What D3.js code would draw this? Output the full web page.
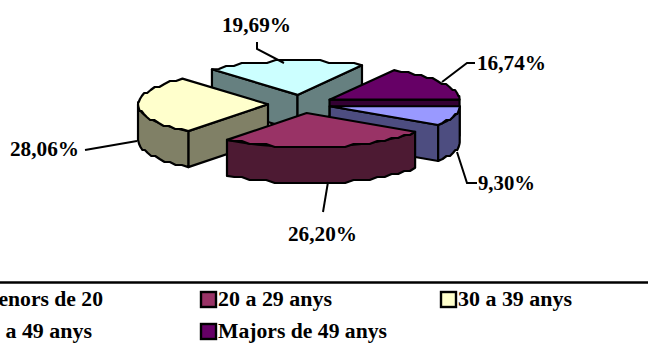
<!DOCTYPE html>
<html><head><meta charset="utf-8">
<script src="https://cdn.jsdelivr.net/npm/d3@7"></script>
<style>html,body{margin:0;padding:0;background:#fff}svg{display:block}
text{font-family:"Liberation Serif",serif;font-weight:bold;fill:#000}</style></head>
<body><svg id="c" width="648" height="347"></svg>
<script>
const categories=["Menors de 20","20 a 29 anys","30 a 39 anys","40 a 49 anys","Majors de 49 anys"];
const values=[9.30,26.20,28.06,19.69,16.74];
const labels=["9,30%","26,20%","28,06%","19,69%","16,74%"];
const topColors=["#9999ff","#993366","#ffffcc","#ccffff","#660066"];
const wallColors=["#4d4d80","#4d1a33","#808066","#668080","#330033"];
const drawOrder=[3,4,2,0,1];
const explodeBy=[30,35,33,35,33];

const svg=d3.select("#c");
const W=648,rx=130,ry=34,depth=36,cx=301,cy=104,STEP=3;
const k=ry/rx;
const pie=d3.pie().sort(null).value(d=>d).startAngle(Math.PI/2).endAngle(Math.PI/2+2*Math.PI);
const arcs=pie(values);
const rScale=d3.scaleLinear().domain([0,1]).range([0,rx]);
const ux=a=>Math.sin(a),uy=a=>-Math.cos(a);
const apex=a=>{const m=(a.startAngle+a.endAngle)/2,e=explodeBy[a.index];return [cx+e*ux(m),cy+e*k*uy(m)];};
const rim=(a,t)=>{const o=apex(a);return [o[0]+rScale(1)*ux(t),o[1]+rScale(1)*k*uy(t)];};
const snap=p=>[p[0],Math.round(p[1]/STEP)*STEP];
function arcPts(a,t0,t1,dy=0,jag=true){
  const n=Math.max(2,Math.ceil(Math.abs(t1-t0)*rx/9)),pts=[];
  for(let i=0;i<=n;i++){
    const t=t0+(t1-t0)*i/n,p=rim(a,t);
    const q=(jag&&i>0&&i<n)?snap(p):p;
    pts.push([q[0],q[1]+dy]);
  }
  return pts;
}
const line=d3.line();
function poly(pts,fill){
  svg.append("path").attr("d",line(pts)+"Z").attr("fill",fill)
    .attr("stroke","#000").attr("stroke-width",2.2).attr("stroke-linejoin","round");
}
drawOrder.forEach(i=>{
  const a=arcs[i],o=apex(a),s=rim(a,a.startAngle),e=rim(a,a.endAngle);
  const down=p=>[p[0],p[1]+depth];
  if(ux(a.startAngle)<0) poly([o,s,down(s),down(o)],wallColors[i]);
  if(ux(a.endAngle)>0) poly([o,e,down(e),down(o)],wallColors[i]);
  const lo=Math.max(a.startAngle,Math.PI/2),hi=Math.min(a.endAngle,3*Math.PI/2);
  if(hi>lo) poly([...arcPts(a,lo,hi,0,false),...arcPts(a,hi,lo,depth)],wallColors[i]);
  poly([o,...arcPts(a,a.startAngle,a.endAngle)],topColors[i]);
});

// labels and leader lines (layout only)
const leaders=[[[457,152],[467,183],[477,183]],[[328,182],[323,212]],[[137,141],[85,150]],[[284,63],[257,49],[257,42]],[[442,82],[467,63],[475,63]]];
const labelPos=[[478,190],[288,241],[10,156],[222,32],[477,70]];
const labelW=[57,69,69,69,69];
arcs.forEach((a,i)=>{
  svg.append("path").attr("d",line(leaders[i])).attr("fill","none").attr("stroke","#000").attr("stroke-width",2);
  svg.append("text").attr("x",labelPos[i][0]).attr("y",labelPos[i][1]).attr("font-size",21)
    .attr("textLength",labelW[i]).attr("lengthAdjust","spacingAndGlyphs").text(labels[i]);
});

// legend
svg.append("line").attr("x1",0).attr("x2",W).attr("y1",282.5).attr("y2",282.5).attr("stroke","#000").attr("stroke-width",2.5);
const colX=d3.scaleLinear().domain([0,1]).range([-40,200]);
const rowY=d3.scaleLinear().domain([0,1]).range([306,338]);
const legendW=[125,114,114,114,169];
categories.forEach((c,i)=>{
  const col=i%3,row=Math.floor(i/3);
  svg.append("rect").attr("x",colX(col)+1).attr("y",rowY(row)-14).attr("width",15).attr("height",15)
    .attr("fill",topColors[i]).attr("stroke","#000").attr("stroke-width",2.4);
  svg.append("text").attr("x",colX(col)+18).attr("y",rowY(row)).attr("font-size",20)
    .attr("textLength",legendW[i]).attr("lengthAdjust","spacingAndGlyphs").text(c);
});
</script></body></html>
